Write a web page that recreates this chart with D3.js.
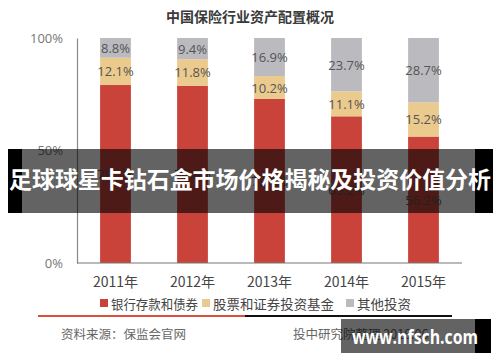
<!DOCTYPE html>
<html>
<head>
<meta charset="utf-8">
<script src="https://cdn.jsdelivr.net/npm/d3@7"></script>
<style>
  html, body { margin: 0; padding: 0; background: #fff; }
  svg { display: block; font-family: "Noto Sans CJK SC", "Open Sans", sans-serif; }
</style>
</head>
<body>
<svg id="chart" width="500" height="362"></svg>
<script>
// ── Data ────────────────────────────────────────────────────────────────
const years   = ["2011年", "2012年", "2013年", "2014年", "2015年"];
const bank    = [79.1, 78.8, 72.9, 65.2, 56.2];   // 银行存款和债券
const stocks  = [12.1, 11.8, 10.2, 11.1, 15.2];   // 股票和证券投资基金
const others  = [8.8, 9.4, 16.9, 23.7, 28.7];     // 其他投资
const yTicks  = [0, 50, 100];

const seriesNames  = ["银行存款和债券", "股票和证券投资基金", "其他投资"];
const seriesColors = ["#c9433b", "#ebca8e", "#bbbbbf"];

// ── Layout ──────────────────────────────────────────────────────────────
const svg = d3.select("#chart");
const x = d3.scaleBand().domain(years).range([77, 462]).paddingInner(0.6).paddingOuter(0.3);
const y = d3.scaleLinear().domain([0, 100]).range([263, 38]);

// title
svg.append("text")
  .attr("x", 250).attr("y", 22)
  .attr("text-anchor", "middle")
  .attr("font-size", 14).attr("font-weight", "bold")
  .attr("fill", "#3a3a3a")
  .text("中国保险行业资产配置概况");

// stacked bars
const rows = years.map((yr, i) => ({ year: yr, b: bank[i], s: stocks[i], o: others[i] }));
const stack = d3.stack().keys(["b", "s", "o"]);
const layers = stack(rows);

layers.forEach(function (layer, li) {
  svg.append("g").selectAll("rect")
    .data(layer)
    .join("rect")
    .attr("x", d => x(d.data.year))
    .attr("width", x.bandwidth())
    .attr("y", d => y(Math.min(100, d[1])))
    .attr("height", d => y(d[0]) - y(Math.min(100, d[1])))
    .attr("fill", seriesColors[li]);

  svg.append("g").selectAll("text")
    .data(layer)
    .join("text")
    .attr("x", d => x(d.data.year) + x.bandwidth() / 2)
    .attr("y", d => (y(d[0]) + y(Math.min(100, d[1]))) / 2)
    .attr("text-anchor", "middle")
    .attr("dominant-baseline", "central")
    .attr("font-family", "'Open Sans', sans-serif")
    .attr("font-size", 13)
    .attr("fill", "#555")
    .text(d => (d[1] - d[0]).toFixed(1) + "%");
});

// axes
const yAxis = svg.append("g")
  .attr("transform", "translate(77,0)")
  .call(d3.axisLeft(y).tickValues(yTicks).tickSize(0).tickPadding(14).tickFormat(d => d + "%"));
yAxis.select(".domain").attr("stroke", "#888").attr("stroke-width", 1.2);
yAxis.selectAll("text")
  .attr("font-family", "'Open Sans', sans-serif")
  .attr("font-size", 13).attr("fill", "#777");

const xAxis = svg.append("g")
  .attr("transform", "translate(0,263)")
  .call(d3.axisBottom(x).tickSize(0).tickPadding(14));
xAxis.select(".domain").attr("stroke", "#777").attr("stroke-width", 1.2)
  .attr("d", "M77,0H462");
xAxis.selectAll("text")
  .attr("font-family", "'Noto Sans CJK SC', sans-serif")
  .attr("font-size", 14).attr("fill", "#444");

// legend
const legendX = [100, 202, 346];
const legendW = [87, 121, 54];
const legend = svg.append("g");
seriesNames.forEach(function (name, i) {
  legend.append("rect")
    .attr("x", legendX[i]).attr("y", 299)
    .attr("width", 8).attr("height", 8)
    .attr("fill", seriesColors[i]);
  legend.append("text")
    .attr("x", legendX[i] + 11).attr("y", 303)
    .attr("dominant-baseline", "central")
    .attr("font-size", 13).attr("fill", "#444")
    .attr("textLength", legendW[i]).attr("lengthAdjust", "spacingAndGlyphs")
    .text(name);
});

// footer rules
svg.append("line").attr("x1", 38).attr("x2", 245).attr("y1", 316).attr("y2", 316)
  .attr("stroke", "#d9503c").attr("stroke-width", 2);
svg.append("line").attr("x1", 245).attr("x2", 452).attr("y1", 316).attr("y2", 316)
  .attr("stroke", "#111").attr("stroke-width", 2);

svg.append("text").attr("x", 61).attr("y", 333)
  .attr("dominant-baseline", "central")
  .attr("font-size", 12.5).attr("fill", "#666")
  .text("资料来源：保监会官网");
svg.append("text").attr("x", 293).attr("y", 333)
  .attr("dominant-baseline", "central")
  .attr("font-size", 12.5).attr("fill", "#666")
  .text("投中研究院整理 2016.06");

// ── Overlay banner ──────────────────────────────────────────────────────
svg.append("rect").attr("x", 8).attr("y", 149).attr("width", 14).attr("height", 64).attr("fill", "#000");
svg.append("rect").attr("x", 475).attr("y", 149).attr("width", 18).attr("height", 64).attr("fill", "#000");
svg.append("rect").attr("x", 22).attr("y", 149).attr("width", 453).attr("height", 64)
  .attr("fill", "rgba(0,0,0,0.61)");
svg.append("text")
  .attr("x", 250).attr("y", 188)
  .attr("text-anchor", "middle")
  .attr("font-size", 23).attr("font-weight", "bold")
  .attr("fill", "#fff")
  .attr("textLength", 482).attr("lengthAdjust", "spacingAndGlyphs")
  .text("足球球星卡钻石盒市场价格揭秘及投资价值分析");

// watermark
svg.append("rect").attr("x", 341).attr("y", 319).attr("width", 134).attr("height", 34)
  .attr("fill", "rgba(0,0,0,0.61)");
svg.append("rect").attr("x", 475).attr("y", 319).attr("width", 16).attr("height", 34).attr("fill", "#000");
svg.append("text")
  .attr("x", 352).attr("y", 337)
  .attr("dominant-baseline", "central")
  .attr("font-family", "'Open Sans', sans-serif")
  .attr("font-size", 19).attr("font-weight", "bold")
  .attr("fill", "#fff")
  .attr("textLength", 126).attr("lengthAdjust", "spacingAndGlyphs")
  .text("www.nfsch.com");
</script>
</body>
</html>
